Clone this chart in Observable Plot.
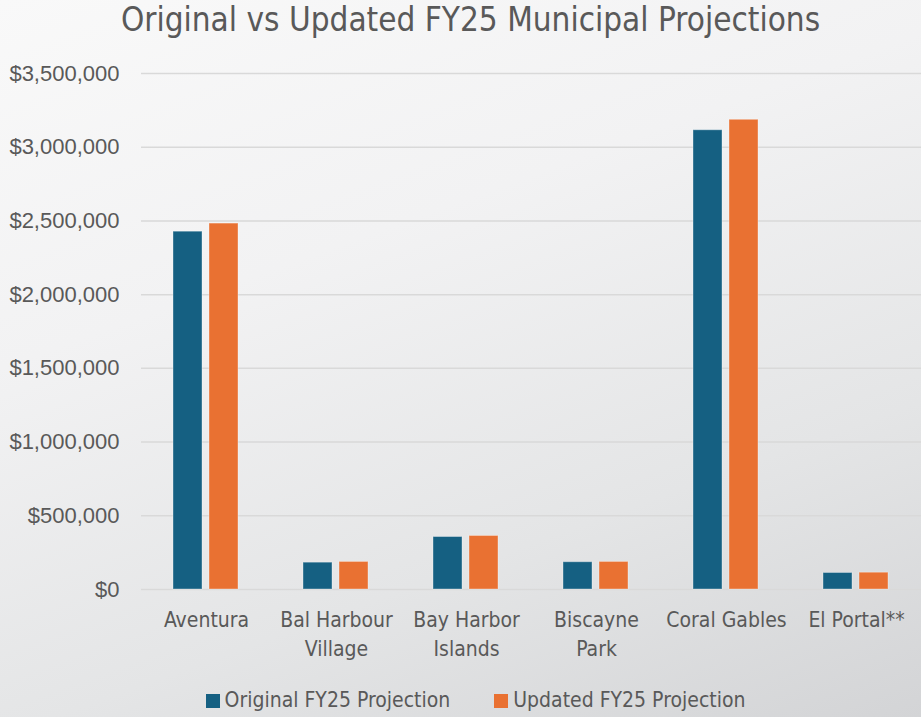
<!DOCTYPE html>
<html>
<head>
<meta charset="utf-8">
<script src="https://cdn.jsdelivr.net/npm/d3@7"></script>
<script src="https://cdn.jsdelivr.net/npm/@observablehq/plot@0.6"></script>
<style>
  html, body { margin: 0; padding: 0; }
  body {
    width: 921px; height: 717px; overflow: hidden;
    background: linear-gradient(160deg, #f9f9f9 0%, #f2f2f3 35%, #e4e5e6 70%, #d3d4d6 100%);
    font-family: "Liberation Sans Narrow", "DejaVu Sans Condensed", "Liberation Sans", sans-serif;
  }
  #title {
    height: 50px; line-height: 40px; text-align: center;
    font-size: 33px; color: #595959; padding-left: 20px;
    font-stretch: condensed;
  }
  #chart svg { display: block; background: transparent; }
  #legend {
    display: flex; justify-content: center; align-items: center; gap: 44px;
    font-size: 21px; color: #595959; margin-top: 18px; padding-left: 30px;
  }
  #legend span.sw { display: inline-block; width: 14px; height: 14px; margin-right: 5px; vertical-align: -1px; }
</style>
</head>
<body>
<div id="title">Original vs Updated FY25 Municipal Projections</div>
<div id="chart"></div>
<div id="legend"></div>
<script>
const categories = ["Aventura", "Bal Harbour Village", "Bay Harbor Islands", "Biscayne Park", "Coral Gables", "El Portal**"];
const categoryLabels = ["Aventura", "Bal Harbour\nVillage", "Bay Harbor\nIslands", "Biscayne\nPark", "Coral Gables", "El Portal**"];
const seriesNames = ["Original FY25 Projection", "Updated FY25 Projection"];
const originalValues = [2427000, 182000, 356000, 185000, 3115000, 112000];
const updatedValues = [2482000, 187000, 363000, 187000, 3186000, 114000];
const yTicks = [0, 500000, 1000000, 1500000, 2000000, 2500000, 3000000, 3500000];
const colors = ["#156082", "#E97132"];

const rows = [];
categories.forEach((c, i) => {
  rows.push({category: c, series: seriesNames[0], value: originalValues[i]});
  rows.push({category: c, series: seriesNames[1], value: updatedValues[i]});
});
const labelMap = new Map(categories.map((c, i) => [c, categoryLabels[i]]));

const plot = Plot.plot({
  width: 921,
  height: 620,
  marginTop: 23,
  marginBottom: 81,
  marginLeft: 140,
  marginRight: 0,
  style: {background: "transparent", fontFamily: "'Liberation Sans', Arial, sans-serif"},
  fx: {domain: categories, padding: 0, label: null, axis: null},
  x: {domain: seriesNames, paddingInner: 0.194, paddingOuter: 0.9, axis: null},
  y: {domain: [0, 3500000], label: null, axis: null},
  color: {domain: seriesNames, range: colors},
  marks: [
    Plot.ruleY(yTicks, {stroke: "#d9d9d9", strokeWidth: 1.5}),
    Plot.barY(rows, {fx: "category", x: "series", y: "value", fill: "series", stroke: "#ffffff", strokeOpacity: 0.35, strokeWidth: 1}),
    Plot.axisY({ticks: yTicks, tickSize: 0, tickPadding: 22, tickFormat: d => "$" + d3.format(",")(d), fontSize: 22, fill: "#595959", label: null}),
    Plot.axisFx({anchor: "bottom", tickSize: 0, tickPadding: 17, tickFormat: d => labelMap.get(d), fontSize: 21, fill: "#595959", lineHeight: 1.38, label: null, fontFamily: "'Liberation Sans Narrow', 'DejaVu Sans Condensed', sans-serif"})
  ]
});
document.getElementById("chart").appendChild(plot);

const legend = document.getElementById("legend");
seriesNames.forEach((s, i) => {
  const item = document.createElement("div");
  item.innerHTML = `<span class="sw" style="background:${colors[i]}"></span>${s}`;
  legend.appendChild(item);
});
</script>
</body>
</html>
